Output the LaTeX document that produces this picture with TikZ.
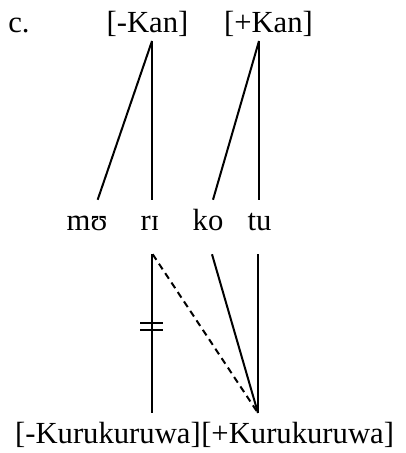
\documentclass[tikz,border=0pt]{standalone}
\usepackage{fontspec}
\setmainfont{Liberation Serif}
\tikzset{
  mot/.style={anchor=base, inner xsep=0pt, inner ysep=6.5pt, text height=16pt, text depth=11.5pt},
  trait/.style={line width=1.5pt},
}
\begin{document}
\begin{tikzpicture}[x=0.75pt, y=-0.75pt, font=\fontsize{23}{27}\selectfont]
\useasboundingbox (0,0) rectangle (406,453);

% Traits du haut
\node[anchor=base west, inner sep=0pt] (ex) at (8,33) {c.};
\node[anchor=base, inner sep=0pt] (kanmoins) at (147.5,33) {[-Kan]};
\node[anchor=base, inner sep=0pt] (kanplus) at (268.5,33) {[+Kan]};

% Syllabes
\node[mot] (mu) at (87,230) {mʊ};
\node[mot] (ri) at (150,230) {rɪ};
\node[mot] (ko) at (208,230) {ko};
\node[mot] (tu) at (259.5,230) {tu};

% Traits du bas
\node[mot, anchor=base east] (kurmoins) at (201,443) {[-Kurukuruwa]};
\node[mot, anchor=base west] (kurplus) at (201,443) {[+Kurukuruwa]};

% Points d'attache
\coordinate (hautG) at (152,41);
\coordinate (hautD) at (259,41);
\coordinate (basD) at (258,413);

% Associations du haut
\draw[trait] (hautG) -- ([xshift=8pt]mu.north);
\draw[trait] (hautG) -- (hautG |- ri.north);
\draw[trait] (hautD) -- ([xshift=3.75pt]ko.north);
\draw[trait] (hautD) -- (hautD |- tu.north);

% Associations du bas
\draw[trait] (hautG |- ri.south) -- (hautG |- kurmoins.north);
\draw[trait, dash pattern=on 5pt off 3.5pt] ([xshift=2pt]ri.south) -- (basD);
\draw[trait] ([xshift=3pt]ko.south) -- (basD);
\draw[trait] (basD |- tu.south) -- (basD);

% Coupure
\draw[line width=1.1pt] (140,323) -- (163,323) (140,330) -- (163,330);

\end{tikzpicture}
\end{document}
